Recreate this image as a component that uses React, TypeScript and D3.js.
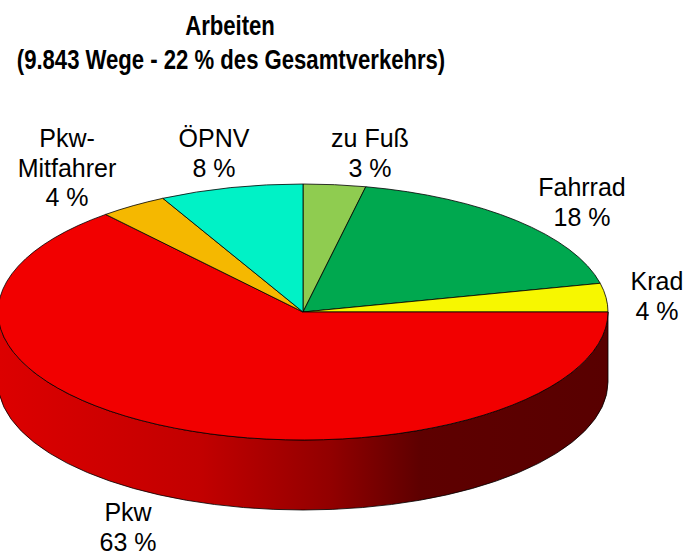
import React from "react";
import * as d3 from "d3";

const categories = ["zu Fuß", "Fahrrad", "Krad", "Pkw", "Pkw-Mitfahrer", "ÖPNV"];
const values = [3.3, 18.1, 3.6, 63.8, 3.6, 7.6];
const labelLines = [["zu Fuß", "3 %"], ["Fahrrad", "18 %"], ["Krad", "4 %"], ["Pkw", "63 %"], ["Pkw-", "Mitfahrer", "4 %"], ["ÖPNV", "8 %"]];
const colors = ["#8fcc50", "#00a84f", "#f7f700", "#f20000", "#f5b800", "#00f2c6"];
const sideColors = ["#6f9c3c", "#007a39", "#b8b800", "#f20000", "#b88a00", "#00b492"];
const titleLines = ["Arbeiten", "(9.843 Wege - 22 % des Gesamtverkehrs)"];

// label anchor positions (center x, first baseline)
const labelPos: [number, number][] = [[370, 147], [582, 196], [657, 290], [128, 521], [67, 147], [214, 147]];

const W = 689, H = 556;
const cx = 303, cy = 312, rx = 305, ry = 128, depth = 70;

function pt(a: number, dy = 0): [number, number] {
  return [cx + rx * Math.sin(a), cy + dy - ry * Math.cos(a)];
}

export default function App() {
  const pie = d3.pie<number>().sort(null).startAngle(0).endAngle(2 * Math.PI);
  const arcs = pie(values);

  const topPath = (a0: number, a1: number) => {
    const p0 = pt(a0), p1 = pt(a1);
    const large = a1 - a0 > Math.PI ? 1 : 0;
    return `M${cx},${cy}L${p0[0]},${p0[1]}A${rx},${ry} 0 ${large} 1 ${p1[0]},${p1[1]}Z`;
  };

  const sidePath = (a0: number, a1: number) => {
    const s = Math.max(a0, Math.PI / 2), e = Math.min(a1, (3 * Math.PI) / 2);
    if (e <= s) return null;
    const t0 = pt(s), t1 = pt(e), b0 = pt(s, depth), b1 = pt(e, depth);
    return `M${t0[0]},${t0[1]}A${rx},${ry} 0 0 1 ${t1[0]},${t1[1]}L${b1[0]},${b1[1]}A${rx},${ry} 0 0 0 ${b0[0]},${b0[1]}Z`;
  };

  return (
    <svg width={W} height={H} style={{ position: "absolute", left: 0, top: 0, background: "#fff" }}
      fontFamily="'Liberation Sans', Arial, sans-serif">
      <defs>
        <linearGradient id="sideGrad" gradientUnits="userSpaceOnUse" x1={0} y1={0} x2={W} y2={0}>
          <stop offset={0} stopColor="#dc0000" />
          <stop offset={200 / W} stopColor="#c20000" />
          <stop offset={330 / W} stopColor="#920000" />
          <stop offset={420 / W} stopColor="#5e0000" />
          <stop offset={1} stopColor="#560000" />
        </linearGradient>
      </defs>
      {arcs.map((a, i) => {
        const d = sidePath(a.startAngle, a.endAngle);
        return d ? (
          <path key={"s" + i} d={d} fill={i === 3 ? "url(#sideGrad)" : sideColors[i]} stroke="#000" strokeWidth={0.8} strokeLinejoin="round" />
        ) : null;
      })}
      {arcs.map((a, i) => (
        <path key={"t" + i} d={topPath(a.startAngle, a.endAngle)} fill={colors[i]} stroke="#000" strokeWidth={0.8} strokeLinejoin="round" />
      ))}
      <g fontWeight="bold" fontSize={28} textAnchor="middle" fill="#000">
        <text transform="translate(230,35) scale(0.79,1)">{titleLines[0]}</text>
        <text transform="translate(231,69) scale(0.79,1)">{titleLines[1]}</text>
      </g>
      <g fontSize={25} textAnchor="middle" fill="#000">
        {labelLines.map((lines, i) => (
          <text key={"l" + i} x={labelPos[i][0]} y={labelPos[i][1]}>
            {lines.map((ln, j) => (
              <tspan key={j} x={labelPos[i][0]} y={labelPos[i][1] + j * 29.5}>{ln}</tspan>
            ))}
          </text>
        ))}
      </g>
    </svg>
  );
}
